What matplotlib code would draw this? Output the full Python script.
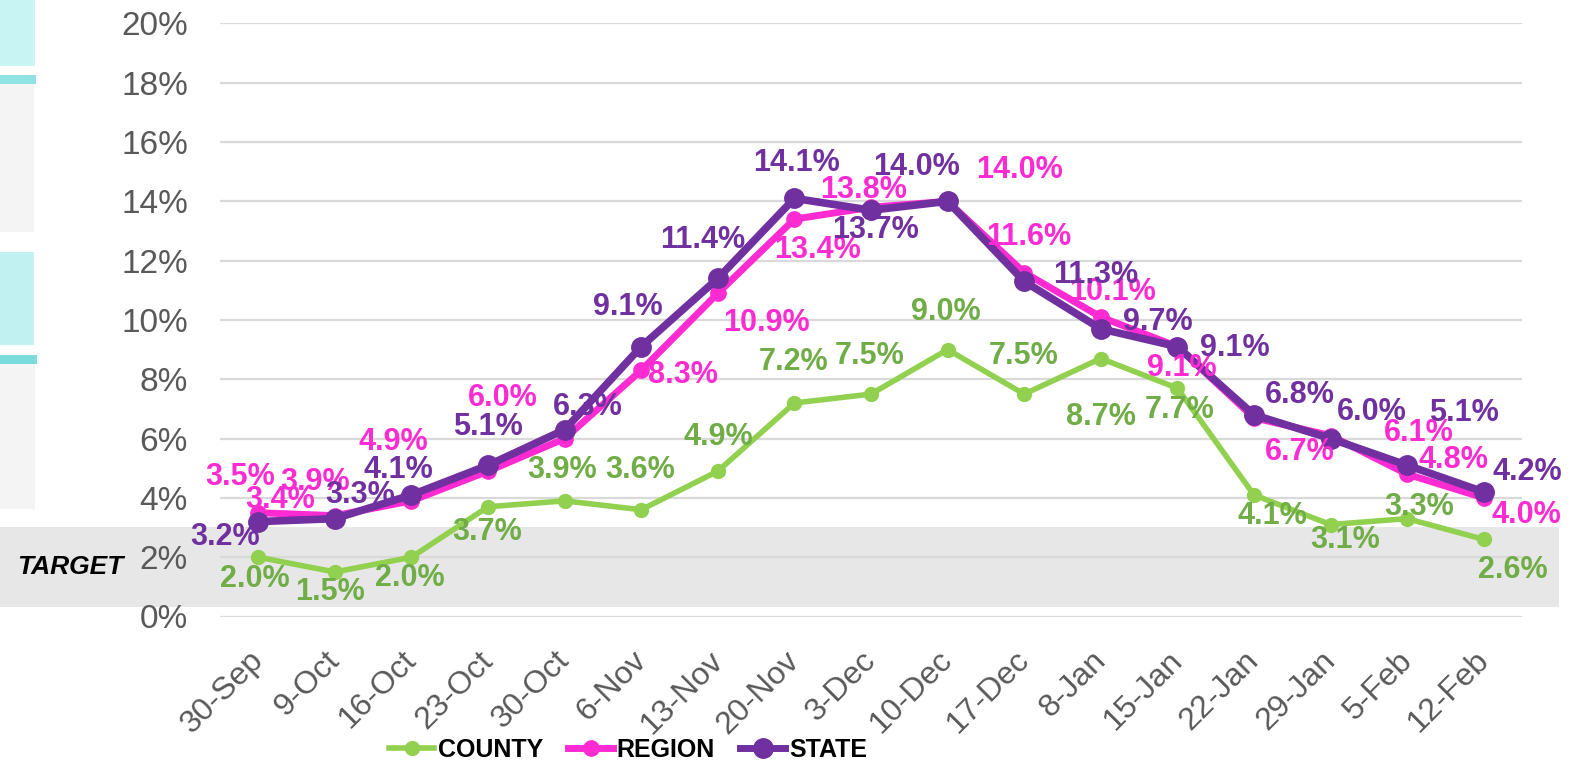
import matplotlib.pyplot as plt
from matplotlib.patches import Rectangle
from matplotlib.transforms import blended_transform_factory, ScaledTranslation
from matplotlib.lines import Line2D

plt.rcParams['font.family'] = ['Liberation Sans', 'DejaVu Sans']

# data
dates = ['30-Sep', '9-Oct', '16-Oct', '23-Oct', '30-Oct', '6-Nov', '13-Nov', '20-Nov',
         '3-Dec', '10-Dec', '17-Dec', '8-Jan', '15-Jan', '22-Jan', '29-Jan', '5-Feb', '12-Feb']
county = [2.0, 1.5, 2.0, 3.7, 3.9, 3.6, 4.9, 7.2, 7.5, 9.0, 7.5, 8.7, 7.7, 4.1, 3.1, 3.3, 2.6]
region = [3.5, 3.4, 3.9, 4.9, 6.0, 8.3, 10.9, 13.4, 13.8, 14.0, 11.6, 10.1, 9.1, 6.7, 6.1, 4.8, 4.0]
state = [3.2, 3.3, 4.1, 5.1, 6.3, 9.1, 11.4, 14.1, 13.7, 14.0, 11.3, 9.7, 9.1, 6.8, 6.0, 5.1, 4.2]
target_band = (0.32, 3.02)

# label offsets in pixels (dx, dy) -- placed by hand like the original
off_county = [(-3, -22), (-5, -20), (-2, -21), (-1, -25), (-3, 31), (-1, 40), (0, 34), (-1, 41),
              (-1, 38), (-2, 38), (-1, 38), (0, -58), (2, -22), (18, -21), (15, -15), (12, 12), (29, -31)]
off_region = [(-18, 36), (-55, 16), (-96, 19), (-95, 29), (-62, 41), (42, -5), (49, -30), (23, -31),
              (-7, 17), (72, 31), (5, 36), (12, 25), (4, -21), (46, -34), (88, 3), (46, 14), (43, -17)]
off_state = [(-33, -15), (25, 24), (-13, 25), (0, 38), (23, 23), (-13, 40), (-15, 38), (2, 35),
             (5, -20), (-31, 34), (72, 6), (57, 7), (57, -1), (46, 20), (41, 27), (57, 52), (44, 20)]

W, H = 1574, 768
fig = plt.figure(figsize=(W / 100, H / 100), dpi=100)
ax = fig.add_axes([220 / W, 1 - 616.5 / H, 1302 / W, (616.5 - 23.4) / H])
ax.patch.set_visible(False)

# leftover shapes on the left edge
def px_box(x0, x1, y0, y1, color):
    fig.patches.append(Rectangle((x0 / W, 1 - y1 / H), (x1 - x0) / W, (y1 - y0) / H,
                                 transform=fig.transFigure, facecolor=color,
                                 edgecolor='none', zorder=-2))

px_box(0, 35, 0, 66, '#C8F4F4')
px_box(0, 36, 75, 84, '#8FE3E3')
px_box(0, 34, 84, 232, '#F4F4F4')
px_box(0, 34, 252, 345, '#C2F1F1')
px_box(0, 37, 355, 364, '#7ADCDC')
px_box(0, 35, 364, 509, '#F4F4F4')

# target band across the whole width
trans = blended_transform_factory(fig.transFigure, ax.transData)
fig.patches.append(Rectangle((0, target_band[0]), 1559 / W, target_band[1] - target_band[0],
                             transform=trans, facecolor='#E7E7E7', edgecolor='none', zorder=-1))
fig.text(70 / W, 1 - 567 / H, 'TARGET', fontsize=19, fontweight='bold', style='italic',
         ha='center', va='center', color='black')

x = list(range(len(dates)))
green, pink, purple = '#92D050', '#FF2BD2', '#7030A0'

ax.plot(x, county, color=green, lw=4, marker='o', ms=10, zorder=3, label='COUNTY')
ax.plot(x, region, color=pink, lw=5, marker='o', ms=11, zorder=4, label='REGION')
ax.plot(x, state, color=purple, lw=5.5, marker='o', ms=14, zorder=5, label='STATE')

def labels(vals, offs, color):
    for i, (v, o) in enumerate(zip(vals, offs)):
        ax.annotate(f'{v:.1f}%', (i, v), xytext=o, textcoords='offset pixels',
                    ha='center', va='center', fontsize=22, fontweight='bold',
                    color=color, zorder=6)

labels(county, off_county, '#70AD47')
labels(region, off_region, pink)
labels(state, off_state, purple)

# axes styling
ax.set_xlim(-0.5, len(dates) - 0.5)
ax.set_ylim(0, 20)
ax.set_yticks(range(0, 21, 2))
ax.set_yticklabels([f'{t}%' for t in range(0, 21, 2)])
ax.yaxis.grid(True, color='#D9D9D9', lw=1.6)
ax.set_axisbelow(True)
for s in ax.spines.values():
    s.set_visible(False)
ax.tick_params(length=0, labelsize=23, labelcolor='#595959')
ax.tick_params(axis='y', labelsize=24, pad=23)
ax.set_xticks(x)
ax.set_xticklabels(dates, rotation=45, ha='right', va='top', rotation_mode='anchor')
shift = ScaledTranslation(-10 / 100, -24 / 100, fig.dpi_scale_trans)
for lab in ax.get_xticklabels():
    lab.set_transform(lab.get_transform() + shift)

# legend
handles = [Line2D([], [], color=green, lw=4, marker='o', ms=10),
           Line2D([], [], color=pink, lw=5, marker='o', ms=11),
           Line2D([], [], color=purple, lw=5, marker='o', ms=14)]
fig.legend(handles, ['COUNTY', 'REGION', 'STATE'], loc='center', ncol=3,
           bbox_to_anchor=(628 / W, 1 - 750 / H), frameon=False,
           prop={'weight': 'bold', 'size': 18},
           handlelength=1.8, handletextpad=0.15, columnspacing=1.0, borderpad=0)

fig.savefig('out.png', dpi=100, facecolor='white')
